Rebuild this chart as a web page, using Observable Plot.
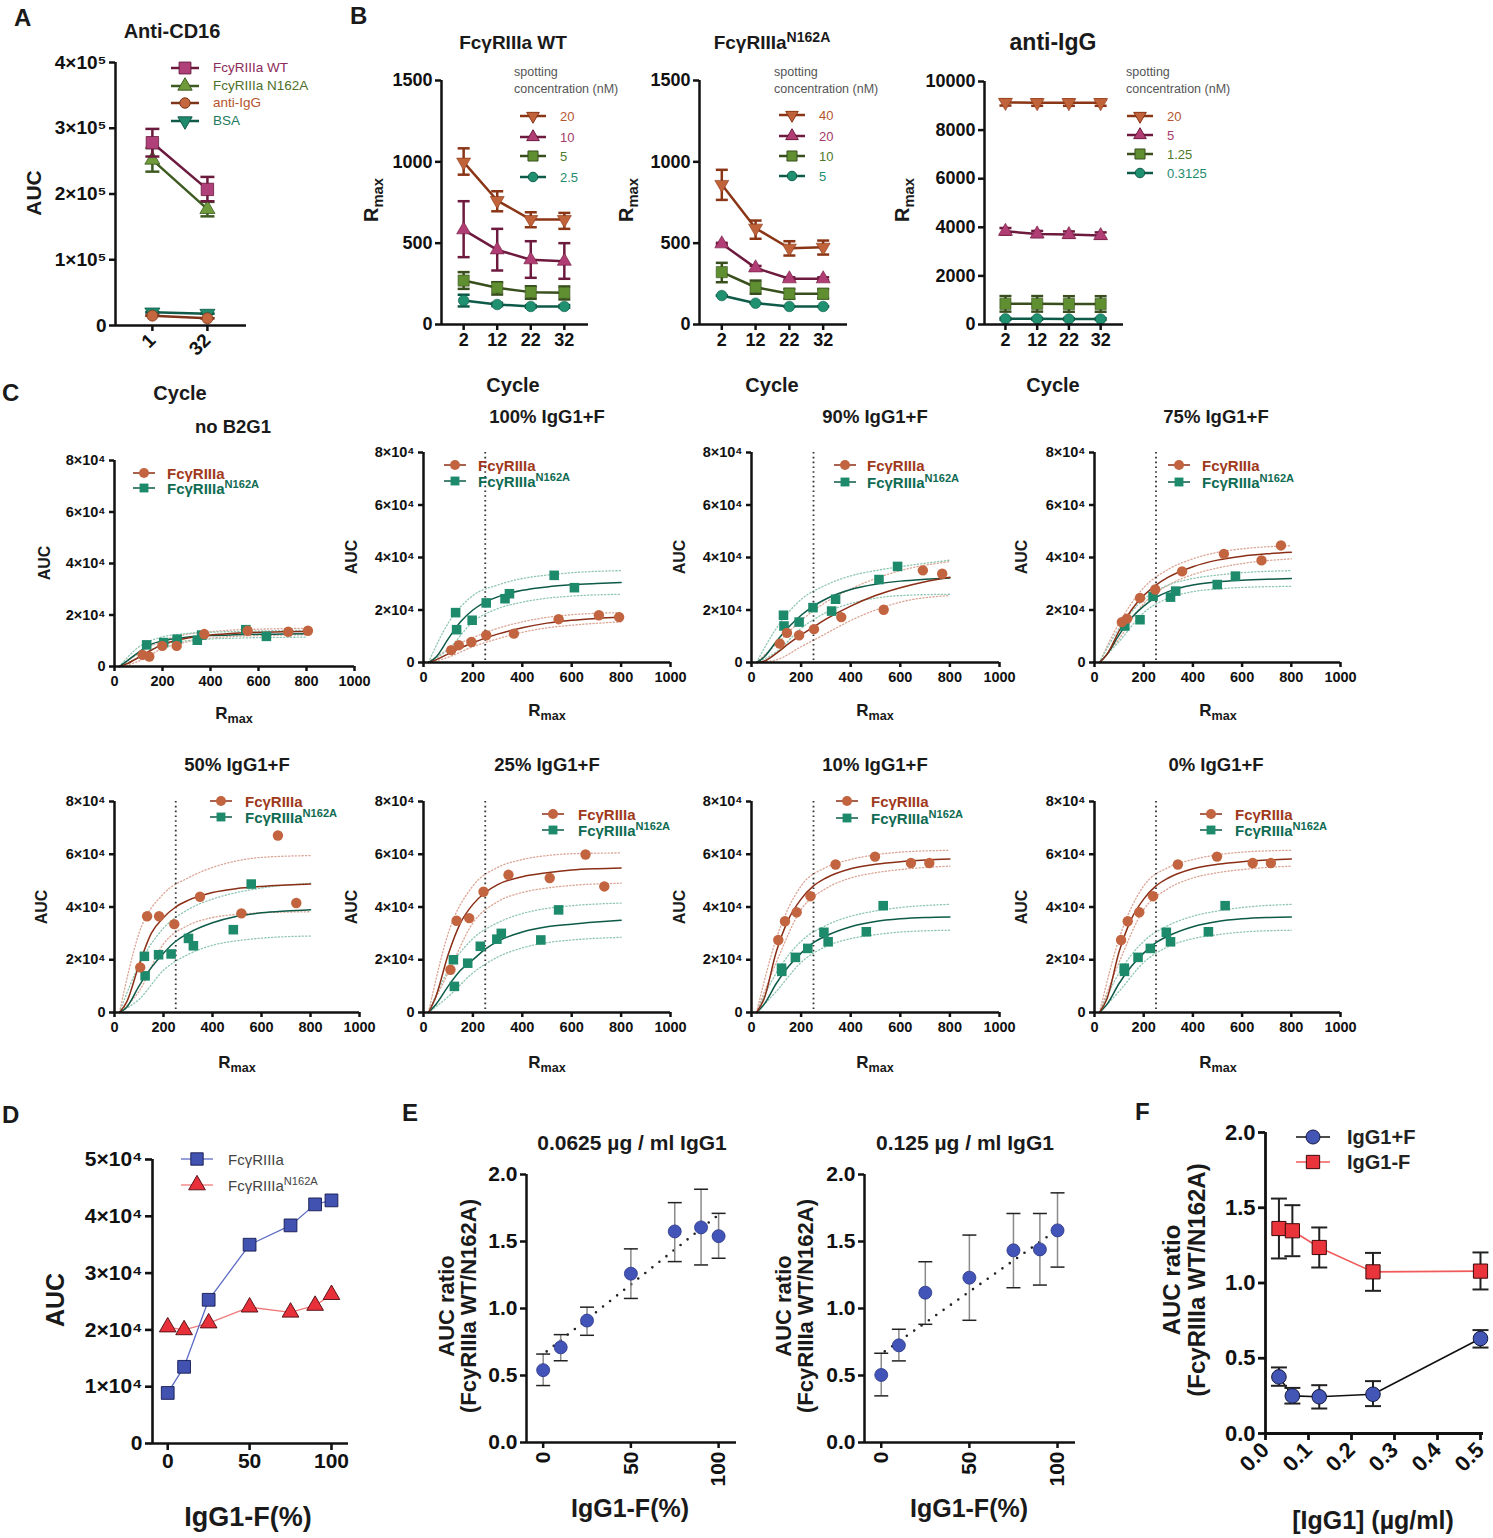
<!DOCTYPE html>
<html><head><meta charset="utf-8">
<script src="https://cdn.jsdelivr.net/npm/d3@7"></script>
<script src="https://cdn.jsdelivr.net/npm/@observablehq/plot@0.6"></script>
<style>
html,body{margin:0;padding:0;background:#fff;}
#root{position:relative;width:1493px;height:1538px;overflow:hidden;background:#fff;font-family:'Liberation Sans',Arial,Helvetica,sans-serif;}
.lbl{position:absolute;white-space:nowrap;line-height:1;}
.lbl sup{font-size:0.74em;vertical-align:0;position:relative;top:-0.5em;}
.lbl sub{font-size:0.74em;vertical-align:0;position:relative;top:0.32em;}
</style></head><body><div id="root"></div>
<script>
// ---------------- DATA ----------------
// Panel A
const A_cycles = ["1", "32"];
const A_cycleIndex = [0, 1];
const A_labels = ["FcyRIIIa WT", "FcyRIIIa N162A", "anti-IgG", "BSA"];
const A_wt = [2.78e5, 2.07e5];
const A_wt_lo = [2.57e5, 1.89e5];
const A_wt_hi = [2.99e5, 2.26e5];
const A_mut = [2.52e5, 1.77e5];
const A_mut_lo = [2.34e5, 1.66e5];
const A_mut_hi = [2.70e5, 1.88e5];
const A_antiIgG = [1.5e4, 1.1e4];
const A_bsa = [2.0e4, 1.8e4];
const A_yTicks = [0, 1e5, 2e5, 3e5, 4e5];

// Panel B
const B_cycles = [2, 12, 22, 32];
const B1_conc = ["20", "10", "5", "2.5"];
const B1_s1 = [998, 762, 645, 645], B1_s1_lo = [921, 696, 598, 588], B1_s1_hi = [1083, 819, 690, 686];
const B1_s2 = [582, 459, 398, 389], B1_s2_lo = [414, 332, 287, 281], B1_s2_hi = [758, 588, 512, 500];
const B1_s3 = [270, 226, 199, 195], B1_s3_lo = [219, 184, 158, 154], B1_s3_hi = [322, 260, 235, 234];
const B1_s4 = [148, 123, 111, 111], B1_s4_lo = [111, 113, 103, 103], B1_s4_hi = [183, 133, 119, 119];
const B2_conc = ["40", "20", "10", "5"];
const B2_s1 = [861, 592, 469, 475], B2_s1_lo = [766, 527, 424, 430], B2_s1_hi = [951, 639, 512, 516];
const B2_s2 = [496, 348, 281, 281], B2_s2_lo = [490, 335, 272, 272], B2_s2_hi = [502, 360, 290, 290];
const B2_s3 = [322, 229, 189, 189], B2_s3_lo = [260, 189, 158, 160], B2_s3_hi = [379, 270, 219, 218];
const B2_s4 = [178, 131, 111, 111], B2_s4_lo = [178, 131, 111, 111], B2_s4_hi = [178, 131, 111, 111];
const B3_conc = ["20", "5", "1.25", "0.3125"];
const B3_s1 = [9140, 9130, 9130, 9130], B3_s1_lo = [9010, 9000, 9000, 9000], B3_s1_hi = [9270, 9260, 9260, 9260];
const B3_s2 = [3836, 3726, 3699, 3658], B3_s2_lo = [3700, 3600, 3570, 3530], B3_s2_hi = [3970, 3850, 3830, 3790];
const B3_s3 = [850, 850, 845, 845], B3_s3_lo = [530, 530, 525, 525], B3_s3_hi = [1170, 1170, 1165, 1165];
const B3_s4 = [233, 233, 226, 226], B3_s4_lo = [195, 195, 190, 190], B3_s4_hi = [270, 270, 262, 262];
const B12_yTicks = [0, 500, 1000, 1500];
const B3_yTicks = [0, 2000, 4000, 6000, 8000, 10000];

// Panel C (AUC in units of 1e4)
const C_titles = ["no B2G1", "100% IgG1+F", "90% IgG1+F", "75% IgG1+F", "50% IgG1+F", "25% IgG1+F", "10% IgG1+F", "0% IgG1+F"];
const C_cutoff = [250];
const C_fitX = [20, 50, 100, 150, 200, 250, 300, 400, 500, 600, 700, 800];
const C_bandX = [20, 100, 200, 300, 400, 500, 600, 800];
const C_xTicks = [0, 200, 400, 600, 800, 1000];
const C_yTicks = [0, 2, 4, 6, 8];

const C1_wt_x = [117, 145, 199, 259, 374, 555, 724, 806];
const C1_wt_y = [0.45, 0.39, 0.80, 0.80, 1.26, 1.39, 1.35, 1.39];
const C1_mut_x = [134, 205, 261, 345, 363, 547, 633];
const C1_mut_y = [0.84, 0.93, 1.06, 1.02, 1.22, 1.43, 1.17];
const C1_wt_fit = [0, 0.1, 0.35, 0.62, 0.85, 1.0, 1.1, 1.22, 1.29, 1.33, 1.35, 1.36];
const C1_mut_fit = [0, 0.2, 0.55, 0.85, 1.0, 1.08, 1.14, 1.2, 1.23, 1.25, 1.26, 1.27];
const C1_wt_hi = [0, 0.5, 1.0, 1.25, 1.35, 1.42, 1.45, 1.48];
const C1_wt_lo = [0, 0.2, 0.7, 0.95, 1.1, 1.17, 1.2, 1.23];
const C1_mut_hi = [0, 0.75, 1.15, 1.28, 1.33, 1.36, 1.38, 1.4];
const C1_mut_lo = [0, 0.35, 0.85, 1.0, 1.07, 1.1, 1.12, 1.14];

const C2_wt_x = [112, 143, 194, 254, 366, 547, 710, 792];
const C2_wt_y = [0.47, 0.66, 0.78, 1.04, 1.10, 1.65, 1.80, 1.73];
const C2_mut_x = [130, 134, 197, 254, 330, 348, 529, 611];
const C2_mut_y = [1.90, 1.25, 1.61, 2.27, 2.43, 2.62, 3.32, 2.85];
const C2_wt_fit = [0, 0.1, 0.33, 0.55, 0.75, 0.93, 1.08, 1.32, 1.5, 1.61, 1.68, 1.73];
const C2_mut_fit = [0, 0.2, 0.9, 1.55, 2.0, 2.3, 2.5, 2.75, 2.88, 2.96, 3.01, 3.05];
const C2_wt_hi = [0, 0.5, 0.95, 1.3, 1.55, 1.72, 1.82, 1.9];
const C2_wt_lo = [0, 0.2, 0.6, 0.9, 1.15, 1.32, 1.42, 1.55];
const C2_mut_hi = [0, 1.5, 2.55, 2.95, 3.2, 3.33, 3.42, 3.5];
const C2_mut_lo = [0, 0.5, 1.55, 2.05, 2.3, 2.45, 2.53, 2.6];

const C3_wt_x = [114, 143, 192, 252, 362, 533, 691, 769];
const C3_wt_y = [0.72, 1.13, 1.04, 1.27, 1.73, 2.01, 3.51, 3.38];
const C3_mut_x = [129, 131, 192, 248, 323, 339, 514, 589];
const C3_mut_y = [1.80, 1.39, 1.54, 2.09, 1.96, 2.41, 3.16, 3.66];
const C3_wt_fit = [0, 0.05, 0.35, 0.72, 1.05, 1.35, 1.65, 2.15, 2.55, 2.85, 3.08, 3.25];
const C3_mut_fit = [0, 0.2, 0.8, 1.35, 1.8, 2.15, 2.42, 2.78, 2.98, 3.1, 3.17, 3.22];
const C3_wt_hi = [0, 0.7, 1.6, 2.3, 2.8, 3.2, 3.5, 3.85];
const C3_wt_lo = [0, 0.1, 0.6, 1.1, 1.6, 2.0, 2.3, 2.55];
const C3_mut_hi = [0, 1.3, 2.4, 2.95, 3.3, 3.5, 3.65, 3.9];
const C3_mut_lo = [0, 0.4, 1.3, 1.9, 2.25, 2.45, 2.55, 2.6];

const C4_wt_x = [111, 132, 185, 247, 356, 526, 679, 758];
const C4_wt_y = [1.54, 1.67, 2.46, 2.78, 3.47, 4.14, 3.89, 4.46];
const C4_mut_x = [123, 185, 238, 309, 330, 499, 573];
const C4_mut_y = [1.39, 1.63, 2.52, 2.49, 2.72, 2.97, 3.29];
const C4_wt_fit = [0, 0.3, 1.2, 2.0, 2.55, 2.95, 3.25, 3.65, 3.9, 4.05, 4.14, 4.2];
const C4_mut_fit = [0, 0.3, 1.05, 1.7, 2.15, 2.48, 2.7, 2.95, 3.07, 3.13, 3.17, 3.2];
const C4_wt_hi = [0, 1.5, 2.85, 3.55, 3.95, 4.2, 4.33, 4.45];
const C4_wt_lo = [0, 0.9, 2.25, 2.95, 3.35, 3.6, 3.77, 3.95];
const C4_mut_hi = [0, 1.3, 2.4, 2.95, 3.2, 3.33, 3.42, 3.5];
const C4_mut_lo = [0, 0.8, 1.9, 2.45, 2.7, 2.8, 2.86, 2.9];

const C5_wt_x = [105, 133, 182, 244, 349, 518, 667, 742];
const C5_wt_y = [1.71, 3.65, 3.65, 3.35, 4.39, 3.76, 6.71, 4.15];
const C5_mut_x = [122, 125, 180, 231, 302, 322, 485, 558];
const C5_mut_y = [2.13, 1.39, 2.19, 2.22, 2.81, 2.53, 3.14, 4.87];
const C5_wt_fit = [0, 0.4, 1.8, 3.0, 3.6, 4.0, 4.25, 4.55, 4.7, 4.78, 4.83, 4.87];
const C5_mut_fit = [0, 0.2, 1.0, 1.7, 2.25, 2.7, 3.0, 3.4, 3.65, 3.78, 3.85, 3.9];
const C5_wt_hi = [0, 3.0, 4.5, 5.1, 5.5, 5.75, 5.88, 5.95];
const C5_wt_lo = [0, 0.8, 2.6, 3.3, 3.6, 3.72, 3.78, 3.82];
const C5_mut_hi = [0, 1.8, 3.2, 3.9, 4.3, 4.55, 4.72, 4.9];
const C5_mut_lo = [0, 0.5, 1.6, 2.2, 2.55, 2.72, 2.82, 2.9];

const C6_wt_x = [109, 134, 185, 243, 344, 511, 656, 732];
const C6_wt_y = [1.62, 3.48, 3.58, 4.58, 5.22, 5.10, 5.99, 4.78];
const C6_mut_x = [121, 125, 179, 230, 297, 315, 475, 547];
const C6_mut_y = [2.00, 0.99, 1.87, 2.51, 2.78, 3.00, 2.75, 3.89];
const C6_wt_fit = [0, 0.6, 2.2, 3.4, 4.1, 4.55, 4.85, 5.15, 5.3, 5.4, 5.45, 5.48];
const C6_mut_fit = [0, 0.3, 1.0, 1.6, 2.0, 2.4, 2.7, 3.05, 3.25, 3.35, 3.43, 3.5];
const C6_wt_hi = [0, 3.0, 4.8, 5.5, 5.8, 5.95, 6.02, 6.05];
const C6_wt_lo = [0, 1.5, 3.4, 4.2, 4.55, 4.72, 4.82, 4.9];
const C6_mut_hi = [0, 1.6, 2.8, 3.4, 3.75, 3.95, 4.05, 4.15];
const C6_mut_lo = [0, 0.6, 1.5, 2.1, 2.45, 2.65, 2.75, 2.85];

const C7_wt_x = [108, 135, 182, 238, 339, 498, 643, 717];
const C7_wt_y = [2.75, 3.46, 3.80, 4.41, 5.61, 5.91, 5.67, 5.67];
const C7_mut_x = [121, 122, 177, 227, 292, 309, 463, 531];
const C7_mut_y = [1.68, 1.56, 2.09, 2.43, 3.04, 2.68, 3.06, 4.05];
const C7_wt_fit = [0, 0.5, 2.3, 3.55, 4.3, 4.8, 5.1, 5.45, 5.62, 5.72, 5.78, 5.82];
const C7_mut_fit = [0, 0.3, 1.1, 1.75, 2.25, 2.65, 2.9, 3.25, 3.45, 3.55, 3.6, 3.62];
const C7_wt_hi = [0, 2.8, 4.8, 5.5, 5.8, 5.98, 6.08, 6.15];
const C7_wt_lo = [0, 1.9, 3.9, 4.7, 5.1, 5.3, 5.42, 5.55];
const C7_mut_hi = [0, 1.5, 2.7, 3.3, 3.65, 3.85, 3.98, 4.1];
const C7_mut_lo = [0, 0.8, 1.9, 2.5, 2.8, 2.95, 3.05, 3.12];

const C8_wt_x = [108, 135, 182, 238, 339, 498, 643, 717];
const C8_wt_y = [2.75, 3.46, 3.80, 4.41, 5.61, 5.91, 5.67, 5.67];
const C8_mut_x = [121, 122, 177, 227, 292, 309, 463, 531];
const C8_mut_y = [1.68, 1.56, 2.09, 2.43, 3.04, 2.68, 3.06, 4.05];
const C8_wt_fit = [0, 0.5, 2.3, 3.55, 4.3, 4.8, 5.1, 5.45, 5.62, 5.72, 5.78, 5.82];
const C8_mut_fit = [0, 0.3, 1.1, 1.75, 2.25, 2.65, 2.9, 3.25, 3.45, 3.55, 3.6, 3.62];
const C8_wt_hi = [0, 2.8, 4.8, 5.5, 5.8, 5.98, 6.08, 6.15];
const C8_wt_lo = [0, 1.9, 3.9, 4.7, 5.1, 5.3, 5.42, 5.55];
const C8_mut_hi = [0, 1.5, 2.7, 3.3, 3.65, 3.85, 3.98, 4.1];
const C8_mut_lo = [0, 0.8, 1.9, 2.5, 2.8, 2.95, 3.05, 3.12];

// Panel D (AUC in units of 1e4)
const D_pct = [0, 10, 25, 50, 75, 90, 100];
const D_wt = [0.89, 1.35, 2.53, 3.50, 3.84, 4.21, 4.28];
const D_mut = [2.05, 2.00, 2.12, 2.40, 2.31, 2.43, 2.62];
const D_yTicks = [0, 1, 2, 3, 4, 5];

// Panel E
const E_pct = [0, 10, 25, 50, 75, 90, 100];
const E1_ratio = [0.54, 0.71, 0.91, 1.26, 1.575, 1.605, 1.54];
const E1_lo = [0.425, 0.61, 0.80, 1.075, 1.35, 1.325, 1.375];
const E1_hi = [0.66, 0.805, 1.01, 1.445, 1.79, 1.89, 1.71];
const E1_fitX = [2, 100], E1_fitY = [0.68, 1.70];
const E2_ratio = [0.504, 0.725, 1.118, 1.23, 1.434, 1.441, 1.583];
const E2_lo = [0.348, 0.609, 0.882, 0.912, 1.155, 1.175, 1.309];
const E2_hi = [0.666, 0.845, 1.349, 1.548, 1.709, 1.709, 1.863];
const E2_fitX = [2, 100], E2_fitY = [0.68, 1.59];
const E_yTicks = [0, 0.5, 1, 1.5, 2];
const E_xTicks = [0, 50, 100];

// Panel F
const F_conc = [0.03125, 0.0625, 0.125, 0.25, 0.5];
const F_plus = [0.376, 0.250, 0.244, 0.261, 0.631];
const F_plus_lo = [0.317, 0.199, 0.166, 0.182, 0.571];
const F_plus_hi = [0.439, 0.303, 0.321, 0.348, 0.687];
const F_minus = [1.362, 1.347, 1.236, 1.074, 1.079];
const F_minus_lo = [1.163, 1.178, 1.103, 0.948, 0.957];
const F_minus_hi = [1.561, 1.517, 1.369, 1.200, 1.203];
const F_xTicks = [0, 0.1, 0.2, 0.3, 0.4, 0.5];
const F_yTicks = [0, 0.5, 1, 1.5, 2];

// ---------------- HELPERS ----------------
const FONT = "'Liberation Sans', Arial, Helvetica, sans-serif";
const root = document.getElementById("root");
const SUPS = "⁰¹²³⁴⁵⁶⁷⁸⁹";
const sup = n => String(n).split("").map(c => SUPS[+c]).join("");
const expFmt = e => v => v === 0 ? "0" : `${+(v / 10 ** e).toFixed(2)}×10${sup(e)}`;
const unitExpFmt = e => v => v === 0 ? "0" : `${v}×10${sup(e)}`;

function label(html, x, y, o = {}) {
  const {size = 16, weight = 700, color = "#1a1a1a", anchor = "middle", rotate = 0, lh = 1, align = "center"} = o;
  const d = document.createElement("div");
  d.className = "lbl";
  d.innerHTML = html;
  d.style.left = x + "px";
  d.style.top = y + "px";
  d.style.fontSize = size + "px";
  d.style.fontWeight = weight;
  d.style.color = color;
  d.style.lineHeight = lh;
  d.style.textAlign = align;
  const tx = anchor === "middle" ? "-50%" : anchor === "end" ? "-100%" : "0";
  d.style.transform = `translate(${tx},-50%)` + (rotate ? ` rotate(${rotate}deg)` : "");
  root.appendChild(d);
}

const capSymbol = {draw(ctx, size) { const w = Math.sqrt(size / Math.PI); ctx.moveTo(-w, 0); ctx.lineTo(w, 0); }};

function errorBars(data, {stroke, capStroke = stroke, strokeWidth = 2, cap = 6}) {
  return [
    Plot.ruleX(data, {x: "x", y1: "lo", y2: "hi", stroke, strokeWidth}),
    Plot.dot(data, {x: "x", y: "lo", symbol: capSymbol, r: cap, stroke: capStroke, strokeWidth, fill: "none"}),
    Plot.dot(data, {x: "x", y: "hi", symbol: capSymbol, r: cap, stroke: capStroke, strokeWidth, fill: "none"})
  ];
}

function rows(xs, ys, lo, hi) {
  return xs.map((x, i) => ({x, y: ys[i], lo: lo ? lo[i] : ys[i], hi: hi ? hi[i] : ys[i]}));
}

function axes({xDomain, xTicks, xFmt, yTicks, yFmt, xRotate = 0, tickSize = 6, sw = 2.5}) {
  return [
    Plot.ruleY([0], {stroke: "#111", strokeWidth: sw}),
    Plot.ruleX([xDomain[0]], {stroke: "#111", strokeWidth: sw}),
    Plot.axisY({ticks: yTicks, tickFormat: yFmt, tickSize, strokeWidth: sw, stroke: "#111", label: null}),
    Plot.axisX({ticks: xTicks, tickFormat: xFmt, tickSize, strokeWidth: sw, stroke: "#111", tickRotate: xRotate, label: null})
  ];
}

function chart({fl, ft, fr, fb, xDomain, yDomain, marks, fontSize = 16}) {
  const padL = 90, padR = 20, padT = 20, padB = 80;
  const svg = Plot.plot({
    width: fr - fl + padL + padR,
    height: fb - ft + padT + padB,
    marginLeft: padL, marginRight: padR, marginTop: padT, marginBottom: padB,
    x: {domain: xDomain, label: null, axis: null},
    y: {domain: yDomain, label: null, axis: null},
    style: {fontFamily: FONT, fontSize: fontSize + "px", fontWeight: "bold", background: "transparent", overflow: "visible", color: "#111"},
    marks
  });
  svg.style.position = "absolute";
  svg.style.left = (fl - padL) + "px";
  svg.style.top = (ft - padT) + "px";
  svg.style.maxWidth = "none";
  root.appendChild(svg);
}

// legend overlay (symbols only)
const legendSvg = d3.select(root).append("svg")
  .attr("width", 1493).attr("height", 1538)
  .style("position", "absolute").style("left", 0).style("top", 0)
  .style("pointer-events", "none").style("z-index", 5);
function legendSym(cx, cy, {symbol, r, fill, stroke, line, lineWidth = 2.5, half = 12, rotate = 0, sw = 1}) {
  legendSvg.append("line").attr("x1", cx - half).attr("x2", cx + half).attr("y1", cy).attr("y2", cy)
    .attr("stroke", line).attr("stroke-width", lineWidth);
  legendSvg.append("path").attr("d", d3.symbol(symbol, Math.PI * r * r)())
    .attr("transform", `translate(${cx},${cy}) rotate(${rotate})`)
    .attr("fill", fill).attr("stroke", stroke).attr("stroke-width", sw);
}

// ---------------- PANEL LETTERS ----------------
label("A", 14, 18, {size: 24, anchor: "start"});
label("B", 350, 16, {size: 24, anchor: "start"});
label("C", 2, 393, {size: 24, anchor: "start"});
label("D", 2, 1115, {size: 24, anchor: "start"});
label("E", 402, 1113, {size: 24, anchor: "start"});
label("F", 1135, 1112, {size: 24, anchor: "start"});

// ---------------- PANEL A ----------------
{
  const A_colors = [
    {fill: "#b0407a", line: "#6b1a3e", text: "#8c2c5b", symbol: "square", r: 7, rotate: 0},
    {fill: "#6f9b3b", line: "#3e5b22", text: "#4d6f2b", symbol: "triangle", r: 5.6, rotate: 0},
    {fill: "#c4673e", line: "#7e3418", text: "#b5532b", symbol: "circle", r: 5.5, rotate: 0},
    {fill: "#1f8b6c", line: "#0f5a48", text: "#1f7a5e", symbol: "triangle", r: 5.6, rotate: 180}
  ];
  const series = [
    rows(A_cycleIndex, A_wt, A_wt_lo, A_wt_hi),
    rows(A_cycleIndex, A_mut, A_mut_lo, A_mut_hi),
    rows(A_cycleIndex, A_antiIgG),
    rows(A_cycleIndex, A_bsa)
  ];
  const order = [3, 2, 1, 0];
  const marks = [];
  for (const k of order) {
    const c = A_colors[k], d = series[k];
    marks.push(Plot.line(d, {x: "x", y: "y", stroke: c.line, strokeWidth: 2.5}));
    marks.push(...errorBars(d, {stroke: c.line, strokeWidth: 2.5, cap: 7}));
    marks.push(Plot.dot(d, {x: "x", y: "y", symbol: c.symbol, r: c.r, fill: c.fill, stroke: c.line, strokeWidth: 0.8, rotate: c.rotate}));
  }
  const xDomain = [-0.67, 1.71];
  marks.push(...axes({xDomain, xTicks: A_cycleIndex, xFmt: i => A_cycles[i], yTicks: A_yTicks, yFmt: expFmt(5), xRotate: -45}));
  chart({fl: 115, ft: 62, fr: 246, fb: 325, xDomain, yDomain: [0, 4e5], marks, fontSize: 19});
  label("Anti-CD16", 172, 31, {size: 20});
  label("AUC", 33, 193, {size: 21, rotate: -90});
  label("Cycle", 180, 393, {size: 20});
  const ly = [68, 86, 103, 121];
  A_labels.forEach((t, k) => {
    const c = A_colors[k];
    legendSym(185, ly[k], {symbol: d3[c.symbol === "square" ? "symbolSquare" : c.symbol === "circle" ? "symbolCircle" : "symbolTriangle"], r: c.r * 0.95, fill: c.fill, stroke: c.line, line: c.line, half: 14, rotate: c.rotate});
    label(t, 213, ly[k], {size: 13.5, weight: 400, color: c.text, anchor: "start"});
  });
}

// ---------------- PANEL B ----------------
const B_styles = [
  {fill: "#c0633a", line: "#8a3515", text: "#b5562f", symbol: "triangle", d3s: d3.symbolTriangle, r: 5.2, rotate: 180},
  {fill: "#b03d73", line: "#6d1a3e", text: "#a33a6b", symbol: "triangle", d3s: d3.symbolTriangle, r: 5.2, rotate: 0},
  {fill: "#5f8f30", line: "#384f1d", text: "#4e7a2a", symbol: "square", d3s: d3.symbolSquare, r: 6.3, rotate: 0},
  {fill: "#1f9070", line: "#0e5a48", text: "#1e8a6e", symbol: "circle", d3s: d3.symbolCircle, r: 5.3, rotate: 0}
];
function bPanel({fl, ft, fr, fb, yDomain, yTicks, series, conc, title, titleX, titleSize = 19, ylabX, legX, legSymX, legTextX, legRows}) {
  const xDomain = [-4.6, 39.2];
  const marks = [];
  for (let k = 3; k >= 0; k--) {
    const s = B_styles[k], d = series[k];
    marks.push(Plot.line(d, {x: "x", y: "y", stroke: s.line, strokeWidth: 2.5}));
    marks.push(...errorBars(d, {stroke: s.line, strokeWidth: 2.5, cap: 6}));
    marks.push(Plot.dot(d, {x: "x", y: "y", symbol: s.symbol, r: s.r, fill: s.fill, stroke: s.line, strokeWidth: 0.6, rotate: s.rotate}));
  }
  marks.push(...axes({xDomain, xTicks: B_cycles, yTicks, xFmt: d3.format("d"), yFmt: d3.format("d")}));
  chart({fl, ft, fr, fb, xDomain, yDomain, marks, fontSize: 18});
  label(title, titleX, 42, {size: titleSize});
  label("R<sub>max</sub>", ylabX, 200, {size: 20, rotate: -90});
  label("Cycle", titleX, 385, {size: 20});
  label("spotting", legX, 72, {size: 12.5, weight: 400, color: "#555", anchor: "start"});
  label("concentration (nM)", legX, 89, {size: 12.5, weight: 400, color: "#555", anchor: "start"});
  conc.forEach((c, k) => {
    const s = B_styles[k];
    legendSym(legSymX, legRows[k], {symbol: s.d3s, r: s.r * 0.9, fill: s.fill, stroke: s.line, line: s.line, half: 13, rotate: s.rotate});
    label(c, legTextX, legRows[k], {size: 13, weight: 400, color: s.text, anchor: "start"});
  });
}
bPanel({fl: 441, ft: 80, fr: 588, fb: 324, yDomain: [0, 1500], yTicks: B12_yTicks,
  series: [rows(B_cycles, B1_s1, B1_s1_lo, B1_s1_hi), rows(B_cycles, B1_s2, B1_s2_lo, B1_s2_hi), rows(B_cycles, B1_s3, B1_s3_lo, B1_s3_hi), rows(B_cycles, B1_s4, B1_s4_lo, B1_s4_hi)],
  conc: B1_conc, title: "FcγRIIIa WT", titleX: 513, ylabX: 371, legX: 514, legSymX: 533, legTextX: 560, legRows: [116, 137, 156, 177]});
bPanel({fl: 699, ft: 80, fr: 847, fb: 324, yDomain: [0, 1500], yTicks: B12_yTicks,
  series: [rows(B_cycles, B2_s1, B2_s1_lo, B2_s1_hi), rows(B_cycles, B2_s2, B2_s2_lo, B2_s2_hi), rows(B_cycles, B2_s3, B2_s3_lo, B2_s3_hi), rows(B_cycles, B2_s4, B2_s4_lo, B2_s4_hi)],
  conc: B2_conc, title: "FcγRIIIa<sup>N162A</sup>", titleX: 772, ylabX: 626, legX: 774, legSymX: 792, legTextX: 819, legRows: [115, 136, 156, 176]});
bPanel({fl: 984, ft: 81, fr: 1123, fb: 324, yDomain: [0, 10000], yTicks: B3_yTicks,
  series: [rows(B_cycles, B3_s1, B3_s1_lo, B3_s1_hi), rows(B_cycles, B3_s2, B3_s2_lo, B3_s2_hi), rows(B_cycles, B3_s3, B3_s3_lo, B3_s3_hi), rows(B_cycles, B3_s4, B3_s4_lo, B3_s4_hi)],
  conc: B3_conc, title: "anti-IgG", titleX: 1053, titleSize: 23, ylabX: 902, legX: 1126, legSymX: 1140, legTextX: 1167, legRows: [116, 135, 154, 173]});

// ---------------- PANEL C ----------------
const C_wtStyle = {fill: "#c2643f", line: "#8a2e16", band: "#dba595", text: "#a0391c"};
const C_mutStyle = {fill: "#1e8a6c", line: "#0c5a47", band: "#8fc6b2", text: "#0f6b52"};
function cPanel(p) {
  const xDomain = [0, 1000];
  const pts = (xs, ys) => xs.map((x, i) => ({x, y: ys[i]}));
  const marks = [
    Plot.line(pts(C_bandX, p.wtHi), {x: "x", y: "y", stroke: C_wtStyle.band, strokeWidth: 1.3, strokeDasharray: "1.2,2.2", curve: "monotone-x"}),
    Plot.line(pts(C_bandX, p.wtLo), {x: "x", y: "y", stroke: C_wtStyle.band, strokeWidth: 1.3, strokeDasharray: "1.2,2.2", curve: "monotone-x"}),
    Plot.line(pts(C_bandX, p.mutHi), {x: "x", y: "y", stroke: C_mutStyle.band, strokeWidth: 1.3, strokeDasharray: "1.2,2.2", curve: "monotone-x"}),
    Plot.line(pts(C_bandX, p.mutLo), {x: "x", y: "y", stroke: C_mutStyle.band, strokeWidth: 1.3, strokeDasharray: "1.2,2.2", curve: "monotone-x"})
  ];
  if (p.cutoff) marks.push(Plot.ruleX(C_cutoff, {stroke: "#333", strokeWidth: 1.8, strokeDasharray: "1.6,3.2"}));
  marks.push(
    Plot.line(pts(C_fitX, p.mutFit), {x: "x", y: "y", stroke: C_mutStyle.line, strokeWidth: 1.5, curve: "monotone-x"}),
    Plot.line(pts(C_fitX, p.wtFit), {x: "x", y: "y", stroke: C_wtStyle.line, strokeWidth: 1.5, curve: "monotone-x"}),
    Plot.dot(pts(p.mutX, p.mutY), {x: "x", y: "y", symbol: "square", r: 5.4, fill: C_mutStyle.fill}),
    Plot.dot(pts(p.wtX, p.wtY), {x: "x", y: "y", symbol: "circle", r: 5.2, fill: C_wtStyle.fill}),
    ...axes({xDomain, xTicks: C_xTicks, yTicks: C_yTicks, xFmt: d3.format("d"), yFmt: unitExpFmt(4), sw: 2.5, tickSize: 5})
  );
  chart({fl: p.fl, ft: p.ft, fr: p.fr, fb: p.fb, xDomain, yDomain: [0, 8], marks, fontSize: 14.5});
  label(p.title, p.tx, p.ty, {size: 18.5});
  label("AUC", p.ax, p.ay, {size: 16, rotate: -90});
  label("R<sub>max</sub>", p.rx, p.ry, {size: 17});
  legendSym(p.lsx, p.ly1, {symbol: d3.symbolCircle, r: 5, fill: C_wtStyle.fill, stroke: "none", line: C_wtStyle.line, lineWidth: 1.5, half: 11});
  legendSym(p.lsx, p.ly2, {symbol: d3.symbolSquare, r: 5, fill: C_mutStyle.fill, stroke: "none", line: C_mutStyle.line, lineWidth: 1.5, half: 11});
  label("FcγRIIIa", p.ltx, p.ly1, {size: 15, color: C_wtStyle.text, anchor: "start"});
  label("FcγRIIIa<sup>N162A</sup>", p.ltx, p.ly2 + 1, {size: 15, color: C_mutStyle.text, anchor: "start"});
}
const C_data = [
  [C1_wt_x, C1_wt_y, C1_mut_x, C1_mut_y, C1_wt_fit, C1_mut_fit, C1_wt_hi, C1_wt_lo, C1_mut_hi, C1_mut_lo],
  [C2_wt_x, C2_wt_y, C2_mut_x, C2_mut_y, C2_wt_fit, C2_mut_fit, C2_wt_hi, C2_wt_lo, C2_mut_hi, C2_mut_lo],
  [C3_wt_x, C3_wt_y, C3_mut_x, C3_mut_y, C3_wt_fit, C3_mut_fit, C3_wt_hi, C3_wt_lo, C3_mut_hi, C3_mut_lo],
  [C4_wt_x, C4_wt_y, C4_mut_x, C4_mut_y, C4_wt_fit, C4_mut_fit, C4_wt_hi, C4_wt_lo, C4_mut_hi, C4_mut_lo],
  [C5_wt_x, C5_wt_y, C5_mut_x, C5_mut_y, C5_wt_fit, C5_mut_fit, C5_wt_hi, C5_wt_lo, C5_mut_hi, C5_mut_lo],
  [C6_wt_x, C6_wt_y, C6_mut_x, C6_mut_y, C6_wt_fit, C6_mut_fit, C6_wt_hi, C6_wt_lo, C6_mut_hi, C6_mut_lo],
  [C7_wt_x, C7_wt_y, C7_mut_x, C7_mut_y, C7_wt_fit, C7_mut_fit, C7_wt_hi, C7_wt_lo, C7_mut_hi, C7_mut_lo],
  [C8_wt_x, C8_wt_y, C8_mut_x, C8_mut_y, C8_wt_fit, C8_mut_fit, C8_wt_hi, C8_wt_lo, C8_mut_hi, C8_mut_lo]
];
const C_layout = [
  {fl: 114, ft: 460, fr: 354, fb: 666, tx: 233, ty: 427, ax: 45, ay: 563, rx: 234, ry: 713, lsx: 144, ltx: 167, ly1: 473, ly2: 488, cutoff: false},
  {fl: 423, ft: 452, fr: 670, fb: 662, tx: 547, ty: 417, ax: 352, ay: 557, rx: 547, ry: 710, lsx: 455, ltx: 478, ly1: 465, ly2: 481, cutoff: true},
  {fl: 751, ft: 452, fr: 999, fb: 662, tx: 875, ty: 417, ax: 680, ay: 557, rx: 875, ry: 710, lsx: 845, ltx: 867, ly1: 465, ly2: 482, cutoff: true},
  {fl: 1094, ft: 452, fr: 1340, fb: 662, tx: 1216, ty: 417, ax: 1022, ay: 557, rx: 1218, ry: 710, lsx: 1179, ltx: 1202, ly1: 465, ly2: 482, cutoff: true},
  {fl: 114, ft: 801, fr: 359, fb: 1012, tx: 237, ty: 765, ax: 42, ay: 907, rx: 237, ry: 1062, lsx: 221, ltx: 245, ly1: 801, ly2: 817, cutoff: true},
  {fl: 423, ft: 801, fr: 670, fb: 1012, tx: 547, ty: 765, ax: 352, ay: 907, rx: 547, ry: 1062, lsx: 553, ltx: 578, ly1: 814, ly2: 830, cutoff: true},
  {fl: 751, ft: 801, fr: 999, fb: 1012, tx: 875, ty: 765, ax: 680, ay: 907, rx: 875, ry: 1062, lsx: 847, ltx: 871, ly1: 801, ly2: 818, cutoff: true},
  {fl: 1094, ft: 801, fr: 1340, fb: 1012, tx: 1216, ty: 765, ax: 1022, ay: 907, rx: 1218, ry: 1062, lsx: 1211, ltx: 1235, ly1: 814, ly2: 830, cutoff: true}
];
C_layout.forEach((L, i) => {
  const [wtX, wtY, mutX, mutY, wtFit, mutFit, wtHi, wtLo, mutHi, mutLo] = C_data[i];
  cPanel({...L, title: C_titles[i], wtX, wtY, mutX, mutY, wtFit, mutFit, wtHi, wtLo, mutHi, mutLo});
});

// ---------------- PANEL D ----------------
{
  const xDomain = [-9.3, 110.4];
  const wt = rows(D_pct, D_wt), mut = rows(D_pct, D_mut);
  const marks = [
    Plot.line(mut, {x: "x", y: "y", stroke: "#f07a7a", strokeWidth: 1.3}),
    Plot.line(wt, {x: "x", y: "y", stroke: "#5d6cc4", strokeWidth: 1.3}),
    Plot.dot(mut, {x: "x", y: "y", symbol: "triangle", r: 6.2, fill: "#e8303a", stroke: "#4a0a10", strokeWidth: 0.9}),
    Plot.dot(wt, {x: "x", y: "y", symbol: "square", r: 7.2, fill: "#4152b0", stroke: "#151a50", strokeWidth: 0.9}),
    ...axes({xDomain, xTicks: [0, 50, 100], yTicks: D_yTicks, xFmt: d3.format("d"), yFmt: unitExpFmt(4), sw: 2.6, tickSize: 7})
  ];
  chart({fl: 152, ft: 1159, fr: 348, fb: 1443, xDomain, yDomain: [0, 5], marks, fontSize: 21});
  label("AUC", 55, 1300, {size: 25, rotate: -90});
  label("IgG1-F(%)", 248, 1517, {size: 27});
  legendSym(197, 1159, {symbol: d3.symbolSquare, r: 7, fill: "#4152b0", stroke: "#151a50", line: "#5d6cc4", lineWidth: 1.3, half: 16, sw: 0.9});
  legendSym(197, 1185, {symbol: d3.symbolTriangle, r: 6.2, fill: "#e8303a", stroke: "#4a0a10", line: "#f07a7a", lineWidth: 1.3, half: 16, sw: 0.9});
  label("FcγRIIIa", 228, 1159, {size: 15, weight: 400, color: "#444", anchor: "start"});
  label("FcγRIIIa<sup>N162A</sup>", 228, 1186, {size: 15, weight: 400, color: "#444", anchor: "start"});
}

// ---------------- PANEL E ----------------
function ePanel({fl, ft, fr, fb, ratio, lo, hi, fitX, fitY, title, tx, ylx, xlx}) {
  const xDomain = [-9.5, 110.2];
  const d = rows(E_pct, ratio, lo, hi);
  const fit = fitX.map((x, i) => ({x, y: fitY[i]}));
  const marks = [
    Plot.line(fit, {x: "x", y: "y", stroke: "#222", strokeWidth: 2.6, strokeDasharray: "0,9", strokeLinecap: "round"}),
    ...errorBars(d, {stroke: "#8a8a8a", capStroke: "#222", strokeWidth: 1.5, cap: 7}),
    Plot.dot(d, {x: "x", y: "y", r: 6.5, fill: "#4254b8", stroke: "#2a3585", strokeWidth: 0.8}),
    ...axes({xDomain, xTicks: E_xTicks, yTicks: E_yTicks, xFmt: d3.format("d"), yFmt: d3.format(".1f"), xRotate: -90, sw: 2.5, tickSize: 6})
  ];
  chart({fl, ft, fr, fb, xDomain, yDomain: [0, 2], marks, fontSize: 21});
  label(title, tx, 1142, {size: 21});
  label("AUC ratio<br>(FcyRIIIa WT/N162A)", ylx, 1306, {size: 22, rotate: -90, lh: 1.02});
  label("IgG1-F(%)", xlx, 1508, {size: 25});
}
ePanel({fl: 526, ft: 1174, fr: 736, fb: 1442, ratio: E1_ratio, lo: E1_lo, hi: E1_hi, fitX: E1_fitX, fitY: E1_fitY, title: "0.0625 µg / ml IgG1", tx: 632, ylx: 458, xlx: 630});
ePanel({fl: 864, ft: 1174, fr: 1075, fb: 1442, ratio: E2_ratio, lo: E2_lo, hi: E2_hi, fitX: E2_fitX, fitY: E2_fitY, title: "0.125 µg / ml IgG1", tx: 965, ylx: 795, xlx: 969});

// ---------------- PANEL F ----------------
{
  const xDomain = [0, 0.507];
  const plus = rows(F_conc, F_plus, F_plus_lo, F_plus_hi);
  const minus = rows(F_conc, F_minus, F_minus_lo, F_minus_hi);
  const marks = [
    Plot.line(minus, {x: "x", y: "y", stroke: "#f05a5a", strokeWidth: 1.6}),
    Plot.line(plus, {x: "x", y: "y", stroke: "#111", strokeWidth: 1.6}),
    ...errorBars(minus, {stroke: "#222", strokeWidth: 2, cap: 8}),
    ...errorBars(plus, {stroke: "#222", strokeWidth: 2, cap: 8}),
    Plot.dot(minus, {x: "x", y: "y", symbol: "square", r: 8, fill: "#e8343a", stroke: "#3a0a0a", strokeWidth: 1}),
    Plot.dot(plus, {x: "x", y: "y", r: 7.3, fill: "#4355b5", stroke: "#151a40", strokeWidth: 1}),
    ...axes({xDomain, xTicks: F_xTicks, yTicks: F_yTicks, xFmt: d3.format(".1f"), yFmt: d3.format(".1f"), xRotate: -45, sw: 2.8, tickSize: 7})
  ];
  chart({fl: 1265, ft: 1132, fr: 1483, fb: 1433, xDomain, yDomain: [0, 2], marks, fontSize: 22});
  label("AUC ratio<br>(FcyRIIIa WT/N162A)", 1184, 1280, {size: 24, rotate: -90, lh: 1.05});
  label("[IgG1] (µg/ml)", 1373, 1520, {size: 25});
  legendSym(1313, 1137, {symbol: d3.symbolCircle, r: 7, fill: "#4355b5", stroke: "#151a40", line: "#111", lineWidth: 1.6, half: 17});
  legendSym(1313, 1162, {symbol: d3.symbolSquare, r: 7.5, fill: "#e8343a", stroke: "#3a0a0a", line: "#f05a5a", lineWidth: 1.6, half: 17});
  label("IgG1+F", 1347, 1137, {size: 20, weight: 600, color: "#222", anchor: "start"});
  label("IgG1-F", 1347, 1162, {size: 20, weight: 600, color: "#222", anchor: "start"});
}
</script></body></html>
